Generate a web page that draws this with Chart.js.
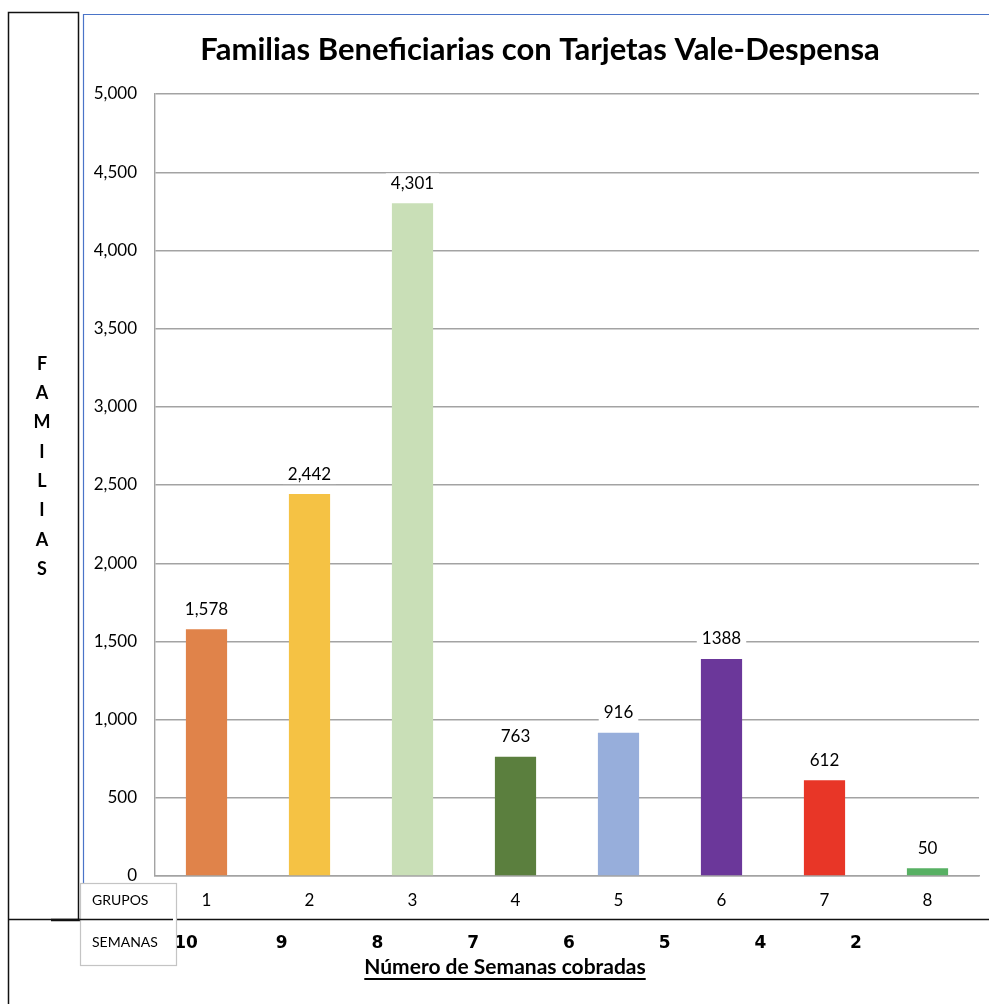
<!DOCTYPE html>
<html><head><meta charset="utf-8">
<script src="https://cdn.jsdelivr.net/npm/chart.js@4/dist/chart.umd.min.js"></script>
<style>html,body{margin:0;padding:0;background:#fff;overflow:hidden}canvas{display:block}</style>
</head><body>
<canvas id="c" width="989" height="1004"></canvas>
<script>
const titleText = 'Familias Beneficiarias con Tarjetas Vale-Despensa';
const groups = ['1', '2', '3', '4', '5', '6', '7', '8'];
const families = [1578, 2442, 4301, 763, 916, 1388, 612, 50];
const valueLabels = ['1,578', '2,442', '4,301', '763', '916', '1388', '612', '50'];
const weeks = ['10', '9', '8', '7', '6', '5', '4', '2'];
const barColors = ['#E0834A', '#F5C244', '#C9DFB7', '#5B7F3E', '#97AEDB', '#6B379A', '#E83627', '#57B063'];
const yTitle = 'FAMILIAS';
const xTitle = 'Número de Semanas cobradas';
const rowLabels = ['GRUPOS', 'SEMANAS'];
const yMin = 0, yMax = 5000, yStep = 500;

const FONT = 'Lato';
const GRID = '#a3a3a3';

const deco = {
  id: 'deco',
  beforeDraw(chart) {
    const ctx = chart.ctx;
    ctx.save();
    ctx.fillStyle = '#fff';
    ctx.fillRect(0, 0, chart.width, chart.height);
    ctx.strokeStyle = '#111';
    ctx.lineWidth = 1.5;
    ctx.beginPath();
    ctx.moveTo(8.5, 1004); ctx.lineTo(8.5, 12.5); ctx.lineTo(78.5, 12.5); ctx.lineTo(78.5, 919.5);
    ctx.stroke();
    ctx.beginPath(); ctx.moveTo(8, 919.5); ctx.lineTo(989, 919.5); ctx.stroke();
    ctx.lineWidth = 2.5;
    ctx.beginPath(); ctx.moveTo(51, 920); ctx.lineTo(173, 920); ctx.stroke();
    ctx.strokeStyle = '#4a74c8';
    ctx.lineWidth = 1.2;
    ctx.beginPath();
    ctx.moveTo(83.5, 884); ctx.lineTo(83.5, 14.5); ctx.lineTo(989, 14.5);
    ctx.stroke();
    ctx.restore();
  },
  afterDatasetsDraw(chart) {
    const ctx = chart.ctx;
    const meta = chart.getDatasetMeta(0);
    ctx.save();
    ctx.font = '17px ' + FONT;
    ctx.textAlign = 'center';
    ctx.textBaseline = 'middle';
    meta.data.forEach((bar, i) => {
      const t = valueLabels[i];
      const w = ctx.measureText(t).width;
      const y = bar.y - 20;
      ctx.fillStyle = '#fff';
      ctx.fillRect(bar.x - w / 2 - 5, y - 10, w + 10, 20);
      ctx.fillStyle = '#000';
      ctx.fillText(t, bar.x, y);
    });
    ctx.restore();
  },
  afterDraw(chart) {
    const ctx = chart.ctx;
    ctx.save();
    ctx.fillStyle = '#000';
    ctx.font = 'bold 31px ' + FONT;
    ctx.textAlign = 'center';
    ctx.textBaseline = 'middle';
    ctx.fillText(titleText, 540, 50);
    ctx.font = 'bold 18px ' + FONT;
    [...yTitle].forEach((ch, i) => ctx.fillText(ch, 42, 364 + i * 29.3));
    ctx.fillStyle = '#fff';
    ctx.fillRect(80, 883, 97, 83);
    ctx.strokeStyle = '#c4c4c4';
    ctx.lineWidth = 1.2;
    ctx.strokeRect(80.5, 883.5, 96, 82);
    ctx.strokeStyle = '#111';
    ctx.lineWidth = 1.5;
    ctx.beginPath(); ctx.moveTo(80, 919.5); ctx.lineTo(173, 919.5); ctx.stroke();
    ctx.fillStyle = '#000';
    ctx.font = '14px ' + FONT;
    ctx.textAlign = 'left';
    ctx.fillText(rowLabels[0], 92, 900);
    ctx.fillText(rowLabels[1], 92, 942);
    ctx.font = 'bold 21px ' + FONT;
    ctx.textAlign = 'center';
    const cx = 505, cy = 967;
    ctx.fillText(xTitle, cx, cy);
    const tw = ctx.measureText(xTitle).width;
    ctx.lineWidth = 1.8;
    ctx.strokeStyle = '#000';
    ctx.beginPath(); ctx.moveTo(cx - tw / 2, cy + 12); ctx.lineTo(cx + tw / 2, cy + 12); ctx.stroke();
    ctx.restore();
  }
};

new Chart(document.getElementById('c'), {
  type: 'bar',
  data: {
    labels: groups,
    datasets: [{
      data: families,
      backgroundColor: barColors,
      borderWidth: 0,
      barPercentage: 0.4,
      categoryPercentage: 1.0,
      xAxisID: 'x',
      yAxisID: 'y'
    }]
  },
  options: {
    responsive: false,
    animation: false,
    devicePixelRatio: 1,
    layout: { padding: { left: 83, right: 10, top: 94, bottom: 44 } },
    plugins: { legend: { display: false }, title: { display: false }, tooltip: { enabled: false } },
    scales: {
      y: {
        min: yMin, max: yMax,
        afterFit(s) { s.width = 72; },
        ticks: {
          stepSize: yStep,
          color: '#000',
          font: { family: FONT, size: 17 },
          padding: 18,
          callback: v => v.toLocaleString('en-US')
        },
        grid: { color: GRID, lineWidth: 1.4, drawTicks: false },
        border: { color: GRID, width: 1.4 }
      },
      x: {
        type: 'category',
        position: 'bottom',
        afterFit(s) { s.height = 44; },
        ticks: { color: '#000', font: { family: FONT, size: 17 }, padding: 6, maxRotation: 0 },
        grid: { display: false },
        border: { color: GRID, width: 1.4 }
      },
      x2: {
        type: 'linear',
        position: 'bottom',
        offset: false,
        min: 0.676, max: 9.285,
        afterFit(s) { s.height = 40; },
        afterBuildTicks(s) { s.ticks = weeks.map((w, i) => ({ value: i + 1 })); },
        ticks: {
          color: '#000',
          font: { family: 'DejaVu Sans', size: 17, weight: 'bold' },
          padding: 5,
          autoSkip: false,
          maxRotation: 0,
          callback: v => weeks[v - 1]
        },
        grid: { display: false, offset: false },
        border: { display: false }
      }
    }
  },
  plugins: [deco]
});
</script>
</body></html>
